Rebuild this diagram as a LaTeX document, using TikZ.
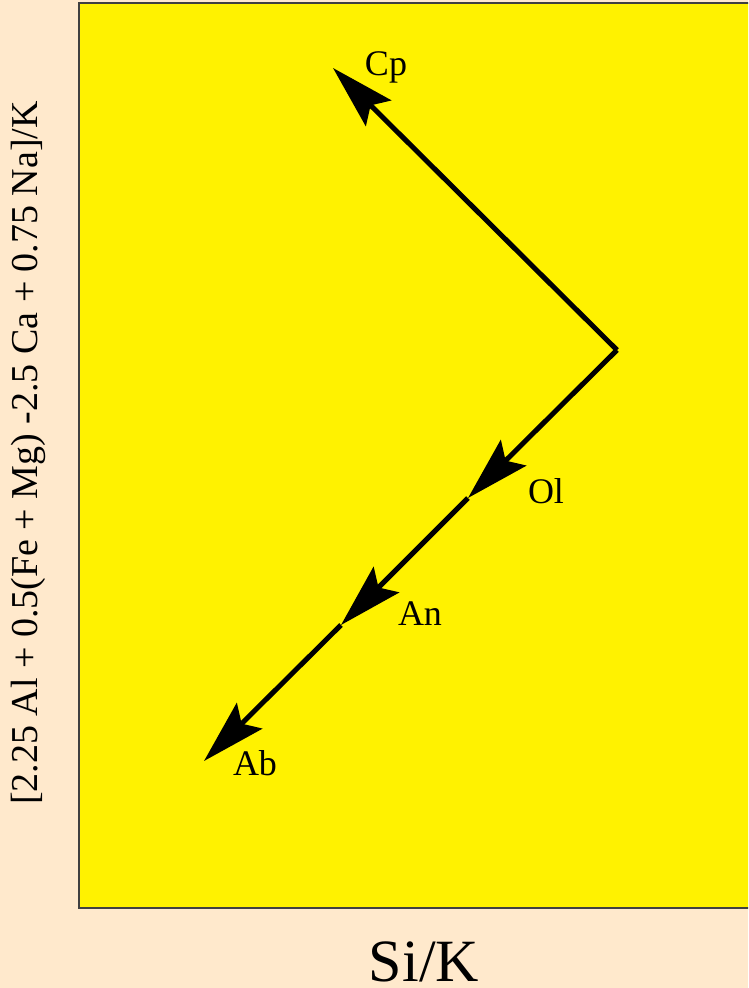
\documentclass[tikz,border=0pt]{standalone}
\usepackage{fontspec}
\setmainfont{Liberation Serif}
\usetikzlibrary{arrows.meta}
\definecolor{peach}{RGB}{255,233,204}
\definecolor{plotyellow}{RGB}{255,242,0}
\begin{document}
\begin{tikzpicture}[x=1pt,y=-1pt,
  vec/.style={line width=5pt,-{Stealth[length=64pt,width=36pt,inset=11pt]}},
  lbl/.style={anchor=base,inner sep=0pt,font=\fontsize{36}{40}\selectfont}]
\fill[peach] (0,0) rectangle (748,988);
\useasboundingbox (0,0) rectangle (748,988);
\begin{scope}
\clip (0,0) rectangle (748,988);
\filldraw[fill=plotyellow,draw=black!75,line width=1.5pt] (79,3) rectangle (760,908);
\end{scope}
\coordinate (V) at (617,350);
\coordinate (Cp) at (333,68);
\coordinate (Ol) at (468,498);
\coordinate (An) at (341,625);
\coordinate (Ab) at (204,761);
\draw[vec] (V) -- (Cp);
\draw[vec] (V) -- (Ol);
\draw[vec] (Ol) -- (An);
\draw[vec] (An) -- (Ab);
\node[lbl] (tCp) at (386,75) {Cp};
\node[lbl] (tOl) at (546,503) {Ol};
\node[lbl] (tAn) at (420,625) {An};
\node[lbl] (tAb) at (255,775) {Ab};
\node[anchor=base,inner sep=0pt,font=\fontsize{60}{66}\selectfont] (xl) at (424,981) {Si/K};
\node[rotate=90,inner sep=0pt,font=\fontsize{38}{42}\selectfont] (yl) at (28,453) {[2.25 Al + 0.5(Fe + Mg) -2.5 Ca + 0.75 Na]/K};
\end{tikzpicture}
\end{document}
